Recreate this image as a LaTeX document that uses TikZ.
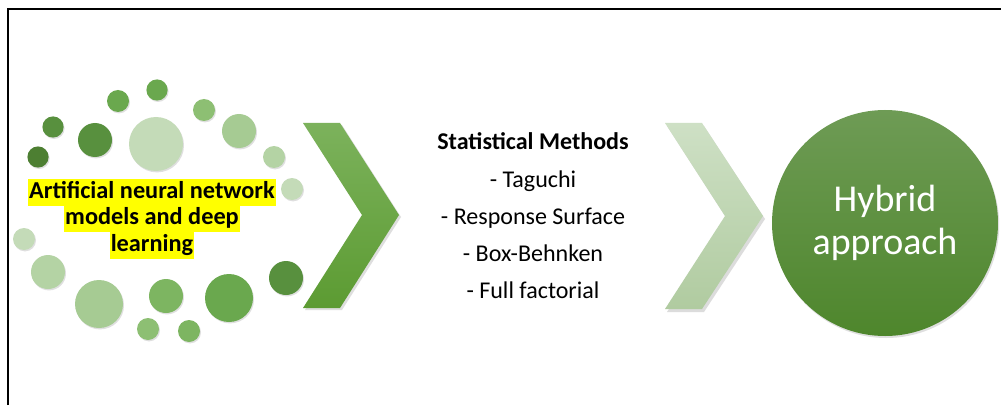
\documentclass[tikz,border=0pt]{standalone}
\usepackage{fontspec}
\setmainfont{Carlito}
\usetikzlibrary{shadows}
\definecolor{hl}{RGB}{255,255,0}
\definecolor{gA}{RGB}{77,127,50}
\definecolor{gB}{RGB}{88,144,62}
\definecolor{gC}{RGB}{106,168,78}
\definecolor{gD}{RGB}{125,181,97}
\definecolor{gE}{RGB}{141,191,115}
\definecolor{gF}{RGB}{166,203,147}
\definecolor{gG}{RGB}{180,211,164}
\definecolor{gH}{RGB}{196,219,184}
\newcommand{\hlline}[1]{{\setlength{\fboxsep}{0pt}\colorbox{hl}{\rule[-5.2pt]{0pt}{18.8pt}\kern0.8pt#1\kern0.8pt}}}
\tikzset{
  bub/.style={circle, inner sep=0pt, draw=none,
    drop shadow={opacity=0.25, shadow xshift=0.25mm, shadow yshift=-0.35mm}},
  txt/.style={align=center, inner sep=0pt, text=black},
  chev/.style={draw=none},
}
\begin{document}
\begin{tikzpicture}[x=0.25mm, y=-0.25mm]
\useasboundingbox (0,0) rectangle (1001,405);
\fill[white] (0,0) rectangle (1001,405);
% frame (only top and left edges visible)
\draw[line width=1.1pt, black] (8,405) -- (8,9) -- (1001,9);

% bubbles
\node[bub, fill=gC, minimum size=5.3mm] (b1) at (157,90) {};
\node[bub, fill=gC, minimum size=5.5mm] (b2) at (118,101) {};
\node[bub, fill=gE, minimum size=5.5mm] (b3) at (204,110) {};
\node[bub, fill=gB, minimum size=5.3mm] (b4) at (53,127) {};
\node[bub, fill=gB, minimum size=8.5mm] (b5) at (95,140) {};
\node[bub, fill=gH, minimum size=13.5mm] (b6) at (156,144) {};
\node[bub, fill=gF, minimum size=8.5mm] (b7) at (239,131) {};
\node[bub, fill=gA, minimum size=5.3mm] (b8) at (38,157) {};
\node[bub, fill=gG, minimum size=5.5mm] (b9) at (274,157) {};
\node[bub, fill=gH, minimum size=5.5mm] (b10) at (292,189) {};
\node[bub, fill=gH, minimum size=5.5mm] (b11) at (24,239) {};
\node[bub, fill=gG, minimum size=8.5mm] (b12) at (48,272) {};
\node[bub, fill=gF, minimum size=12mm] (b13) at (99,304) {};
\node[bub, fill=gD, minimum size=8.5mm] (b14) at (166,296) {};
\node[bub, fill=gC, minimum size=12mm] (b15) at (229,298) {};
\node[bub, fill=gB, minimum size=8.5mm] (b16) at (286,278) {};
\node[bub, fill=gE, minimum size=5.5mm] (b17) at (148,329) {};
\node[bub, fill=gD, minimum size=5.5mm] (b18) at (189,331) {};

% ANN text with highlight
\node[txt, font=\bfseries\fontsize{17.3}{18.8}\selectfont] (ann) at (152,219)
  {\hlline{Artificial neural network}\\
   \hlline{models and deep}\\
   \hlline{learning}};

% dark chevron
\fill[black!25, opacity=0.5] (305,125) -- (342,125) -- (401,217) -- (342,310) -- (305,310) -- (364,217) -- cycle;
\shade[chev, top color={rgb,255:red,124;green,178;blue,92}, bottom color={rgb,255:red,92;green,155;blue,50}]
  (303,123) -- (340,123) -- (399,215) -- (340,308) -- (303,308) -- (362,215) -- cycle;

% statistical methods
\node[txt, font=\fontsize{17.1}{26.5}\selectfont] (stat) at (533,216)
  {\textbf{Statistical Methods}\\- Taguchi\\- Response Surface\\- Box-Behnken\\- Full factorial};

% light chevron
\fill[black!30, opacity=0.45] (667,126) -- (704,126) -- (765,219) -- (704,312) -- (667,312) -- (727,219) -- cycle;
\shade[chev, top color={rgb,255:red,206;green,224;blue,197}, bottom color={rgb,255:red,176;green,203;blue,160}]
  (665,123) -- (702,123) -- (763,216) -- (702,309) -- (665,309) -- (725,216) -- cycle;

% hybrid circle
\node[circle, minimum size=56.5mm, inner sep=0pt,
  top color={rgb,255:red,110;green,155;blue,85}, bottom color={rgb,255:red,78;green,134;blue,44},
  drop shadow={opacity=0.25, shadow xshift=0.3mm, shadow yshift=-0.5mm},
  text=white, align=center, font=\fontsize{27}{30.5}\selectfont] (hyb) at (885,223)
  {\raisebox{-1.5pt}{Hybrid}\\[0pt]\raisebox{-1.5pt}{approach}};
\end{tikzpicture}
\end{document}
